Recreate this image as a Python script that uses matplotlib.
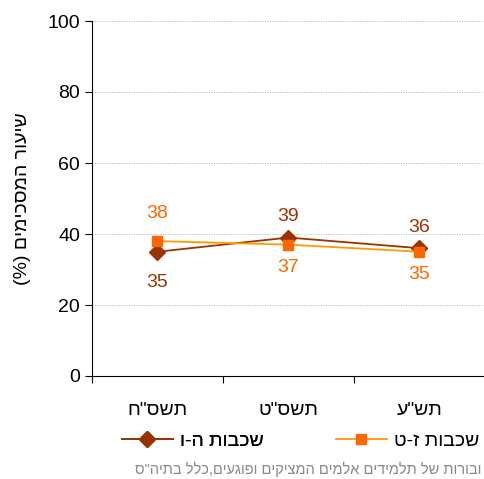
import matplotlib.pyplot as plt
from matplotlib.lines import Line2D

plt.rcParams['font.family'] = ['Liberation Sans', 'DejaVu Sans']


def heb(s):
    # matplotlib has no bidi support: flip to visual order
    s = s[::-1]
    return s.translate(str.maketrans("()", ")("))


years = ['תשס"ח', 'תשס"ט', 'תש"ע']
grades_5_6 = [35, 39, 36]
grades_7_9 = [38, 37, 35]
name_5_6 = "שכבות ה-ו"
name_7_9 = "שכבות ז-ט"
ylabel = "שיעור המסכימים (%)"
source = 'ובורות של תלמידים אלמים המציקים ופוגעים,כלל בתיה"ס'

brown = "#993300"
orange_line = "#FF9900"
orange_mark = "#FF6600"
fs = 14

fig = plt.figure(figsize=(4.85, 4.79), dpi=100)
ax = fig.add_axes([92 / 485, 1 - 376 / 479, 393 / 485, 355 / 479])

x = [i + 0.5 for i in range(len(years))]
ax.plot(x, grades_5_6, color=brown, marker="D", markersize=8, lw=1.3, zorder=3)
ax.plot(x, grades_7_9, color=orange_line, marker="s", markersize=7,
        markerfacecolor=orange_mark, markeredgecolor=orange_mark, lw=1.3, zorder=3)

# value labels: higher series above, lower one below
for xi, a, b in zip(x, grades_5_6, grades_7_9):
    if a > b:
        ax.text(xi, a + 5.9, str(a), color=brown, ha="center", va="center", fontsize=fs)
        ax.text(xi, b - 6.4, str(b), color=orange_mark, ha="center", va="center", fontsize=fs)
    else:
        ax.text(xi, a - 8.7, str(a), color=brown, ha="center", va="center", fontsize=fs)
        ax.text(xi, b + 7.9, str(b), color=orange_mark, ha="center", va="center", fontsize=fs)

ax.set_xlim(0, 3)
ax.set_ylim(0, 100)
ax.set_yticks([0, 20, 40, 60, 80, 100])
ax.set_xticks([0, 1, 2, 3])
ax.set_xticklabels([])
ax.set_xticks(x, minor=True)
ax.set_xticklabels([heb(y) for y in years], minor=True, fontsize=fs)
ax.tick_params(axis="x", which="minor", length=0, pad=19)
ax.tick_params(axis="x", which="major", length=5, direction="out")
ax.tick_params(axis="y", labelsize=fs, length=5, direction="out")
ax.grid(axis="y", color="#b0b0b0", linestyle=(0, (1, 1.5)), lw=0.7)
for s in ["top", "right"]:
    ax.spines[s].set_visible(False)
ax.set_ylabel(heb(ylabel), fontsize=fs, labelpad=12)

h1 = Line2D([], [], color=brown, marker="D", markersize=8, lw=1.3)
h2 = Line2D([], [], color=orange_line, marker="s", markersize=7,
            markerfacecolor=orange_mark, markeredgecolor=orange_mark, lw=1.3)
leg1 = fig.legend([h1], [heb(name_5_6)], loc="center left",
                  bbox_to_anchor=(122 / 485, 1 - 441 / 479), frameon=False,
                  fontsize=fs, handlelength=2.6, handletextpad=0.4,
                  borderpad=0, borderaxespad=0)
fig.add_artist(leg1)
fig.legend([h2], [heb(name_7_9)], loc="center left",
           bbox_to_anchor=(336 / 485, 1 - 441 / 479), frameon=False,
           fontsize=fs, handlelength=2.6, handletextpad=0.4,
           borderpad=0, borderaxespad=0)

fig.text(481 / 485, 1 - 469 / 479, heb(source), color="#888888", fontsize=10.5,
         ha="right", va="center")

fig.savefig("out.png", dpi=100)
